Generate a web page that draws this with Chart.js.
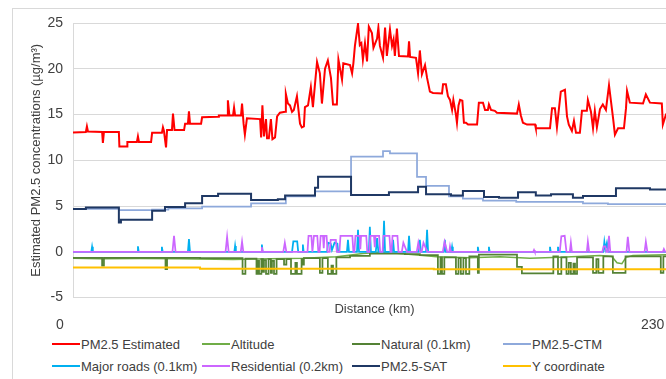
<!DOCTYPE html>
<html>
<head>
<meta charset="utf-8">
<script src="https://cdn.jsdelivr.net/npm/chart.js@4.4.1/dist/chart.umd.min.js"></script>
<style>
html, body { margin: 0; padding: 0; overflow: hidden; background: #fff; width: 666px; height: 379px; }
#frame { position: absolute; left: 12px; top: 8px; width: 1000px; height: 1000px; border: 1px solid #d9d9d9; }
#wrap { position: absolute; left: 0; top: 0; width: 680px; height: 336px; }
#legend { position: absolute; left: 0; top: 0; font: 13px "Liberation Sans", Arial, sans-serif; color: #404040; }
#legend .item { position: absolute; display: flex; align-items: center; height: 16px; white-space: nowrap; }
#legend .swatch { width: 28px; height: 2px; margin-right: 1px; }
</style>
</head>
<body>
<div id="frame"></div>
<div id="wrap"><canvas id="chart"></canvas></div>
<div id="legend"></div>
<script>
var seriesNames = ["PM2.5 Estimated", "Altitude", "Natural (0.1km)", "PM2.5-CTM",
  "Major roads (0.1km)", "Residential (0.2km)", "PM2.5-SAT", "Y coordinate"];
var seriesColors = ["#FF0000", "#70AD47", "#548235", "#8EA9DB", "#00B0F0", "#CC66FF", "#1F3864", "#FFC000"];
var distanceTicks = [0, 230];

// [distance km, value]
var pm25Estimated = [
  [0,13.05],[5.0,13.1],[5.4,13.7],[5.8,13.15],[11.3,13.1],[11.6,11.9],[12.0,13.1],[17.8,13.1],[18.0,11.5],
  [21.0,11.5],[21.1,12.0],[24.8,12.0],[25.2,12.6],[25.6,12.0],[30.3,12.0],[30.7,13.0],[34.5,13.0],[34.9,13.6],
  [35.3,13.2],[36.1,11.4],[36.5,13.3],[38.4,13.3],[38.8,15.1],[39.4,13.3],[43.1,13.3],[43.5,14.0],[44.6,14.0],
  [45.0,15.35],[45.4,14.0],[49.7,14.0],[50.1,14.7],[56.3,14.75],[56.6,14.9],[59.8,14.9],[60.1,16.55],[60.7,14.9],
  [62.1,14.9],[62.5,15.75],[62.9,14.9],[65.2,14.9],[65.6,16.2],[66.2,14.0],[66.7,12.8],[67.5,14.6],[72.6,14.5],
  [73.0,12.5],[73.5,16.0],[74.1,12.6],[74.9,14.5],[75.3,12.4],[76.0,12.4],[76.8,14.5],[77.4,12.3],[78.4,12.5],
  [79.2,14.8],[80.3,15.2],[82.3,15.3],[82.6,17.25],[83.4,16.2],[84.2,16.0],[85.0,15.3],[85.7,15.5],[86.9,17.0],
  [87.7,15.0],[88.1,14.0],[88.8,13.6],[89.6,13.7],[90.0,15.8],[91.2,16.0],[92.3,18.0],[93.1,15.8],[93.9,18.3],
  [94.7,20.75],[95.8,19.5],[96.6,16.2],[97.8,20.0],[98.9,20.9],[100.1,19.0],[100.9,16.1],[102.4,16.1],[103.0,21.0],
  [104.4,18.8],[104.9,20.6],[107.5,20.4],[108.3,19.5],[108.8,20.6],[109.4,22.5],[110.6,24.9],[111.3,22.6],
  [111.9,22.8],[112.5,21.0],[113.3,22.8],[114.1,20.8],[114.8,24.6],[116.0,23.9],[116.6,22.3],[118.0,23.3],
  [118.5,24.5],[119.1,22.5],[120.3,21.2],[121.1,24.5],[121.8,21.4],[123.0,24.3],[123.8,22.5],[124.4,23.2],
  [124.9,21.4],[125.7,24.4],[126.5,21.4],[130.0,21.35],[130.4,23.0],[130.8,21.3],[133.1,21.2],[133.9,19.5],
  [134.6,22.0],[135.4,19.4],[136.6,20.4],[137.4,19.0],[138.5,17.5],[139.7,17.35],[143.2,17.3],[143.6,18.3],
  [144.7,18.3],[145.5,17.0],[146.3,16.6],[147.1,15.5],[147.6,16.6],[148.6,15.0],[149.0,14.1],[149.6,16.0],
  [150.2,16.6],[151.1,16.5],[151.7,14.1],[152.5,14.1],[153.3,13.9],[156.8,13.9],[157.5,16.3],[159.1,16.3],
  [159.9,15.5],[161.0,15.5],[161.4,16.1],[162.2,15.5],[163.7,15.4],[164.5,15.2],[172.3,15.1],[173.0,16.1],
  [173.8,14.9],[174.6,14.1],[176.2,13.9],[179.3,13.9],[179.6,13.5],[185.1,13.5],[185.9,15.7],[187.0,15.7],
  [187.8,13.6],[188.6,15.7],[189.3,17.5],[190.9,17.7],[191.7,14.8],[192.4,13.9],[193.6,13.2],[194.4,14.3],
  [195.2,13.0],[196.7,13.0],[197.5,15.4],[199.4,15.4],[199.8,16.6],[201.0,15.3],[201.8,13.5],[202.5,15.4],
  [203.3,13.6],[204.5,15.6],[205.6,16.1],[206.8,15.5],[208.0,18.2],[209.1,15.7],[209.7,14.3],[210.3,12.8],
  [211.5,13.5],[213.8,13.5],[214.6,15.7],[215.0,17.6],[216.1,16.3],[221.2,16.2],[222.3,17.2],[223.9,16.3],
  [228.5,16.2],[228.9,13.9],[230.1,15.0],[231.6,14.8],[234,14.8]
];

var altitude = [
  [0,-0.7],[10.5,-0.75],[26,-0.72],[41.5,-0.75],[62.1,-0.85],[76.4,-0.75],[89.2,-0.7],[102.4,-0.55],
  [112.5,-0.18],[118,-0.08],[125.7,-0.15],[134.6,-0.37],[141.2,-0.55],[154,-0.65],[165.7,-0.55],[177.3,-0.7],
  [189,-0.6],[204.5,-0.4],[209.1,-0.5],[211.1,-1.2],[213,-1.3],[214.6,-0.6],[217.3,-0.4],[234,-0.3]
];

// stepped: value holds until the next distance
var natural = [
  [0,-0.65],[11.3,-1.5],[12.0,-0.65],[35.9,-1.9],[36.5,-0.65],[49.3,-0.7],[65.8,-2.4],[66.9,-0.75],
  [71.2,-2.4],[71.8,-1.0],[72.2,-2.4],[73.1,-0.8],[73.7,-2.2],[74.1,-0.9],[74.9,-2.4],[75.9,-0.8],
  [76.8,-2.3],[77.2,-1.0],[78.0,-2.4],[79.0,-0.8],[81.9,-1.4],[82.8,-0.8],[84.6,-2.4],[86.3,-1.2],
  [86.9,-2.4],[88.7,-0.8],[89.2,-1.4],[89.6,-0.7],[95.8,-2.3],[96.8,-0.7],[98.9,-2.4],[100.3,-1.5],
  [100.9,-2.4],[102.2,-0.6],[107.5,-0.45],[115.2,-0.2],[128.8,-0.25],[134.6,-0.35],[141.6,-2.4],[142.6,-0.6],
  [143.2,-2.4],[144.1,-0.6],[148.6,-2.4],[149.6,-0.7],[150.5,-2.4],[151.5,-0.7],[152.5,-2.4],[153.8,-0.5],
  [157.1,-2.3],[157.5,-0.3],[172.3,-1.65],[174.2,-2.35],[186.4,-0.5],[188.2,-2.4],[189.5,-0.6],[191.5,-2.4],
  [192.4,-1.2],[193.2,-2.4],[194.2,-1.3],[194.8,-2.4],[195.6,-0.6],[201.8,-2.3],[203.1,-0.8],[203.9,-2.3],
  [205.8,-0.5],[209.5,-2.3],[214.4,-0.5],[228.1,-2.3],[229.1,-0.5],[234,-0.5]
];

var pm25Ctm = [
  [0,4.7],[17.8,4.55],[30.7,4.6],[37.0,4.75],[50.1,4.95],[69.1,5.3],[82.6,6.05],[93.9,6.6],[107.9,10.4],
  [120.3,11.0],[123.0,10.75],[133.5,8.2],[137.0,7.2],[145.9,6.05],[151.3,5.8],[159.1,5.6],[172.0,5.45],
  [197.9,5.3],[207.6,5.2],[234,5.2]
];

var majorRoads = [
  [0,0],[7.1,0],[7.4,0.55],[7.7,0],[24.9,0],[25.2,0.6],[25.5,0],[34.2,0],[34.5,0.55],[34.8,0],
  [44.6,0],[45.0,1.4],[45.4,0],[62.6,0],[62.9,0.65],[63.2,0],[73.0,0],[73.3,0.8],[73.6,0],
  [85.0,0],[85.5,1.15],[87.0,1.15],[87.4,0],[88.9,0],[89.2,0.8],[89.5,0],
  [98.6,0],[99.0,1.0],[100.0,0.9],[100.5,0.2],[101.5,1.0],[102.6,0.9],[102.9,0],
  [106.3,0],[106.7,1.3],[107.1,0],[110.2,0],[110.6,2.4],[111.0,0],[114.8,0],[115.2,2.75],[115.6,0],
  [117.5,0],[118.0,1.5],[118.5,0],[120.3,0],[120.7,3.4],[121.1,0],[123.8,0],[124.2,1.3],[124.6,0],
  [130.0,0],[130.4,1.75],[130.8,0],[134.2,0],[134.6,1.3],[135.0,0],[137.0,0],[137.4,2.4],[137.8,0],
  [143.9,0],[144.3,1.3],[144.7,0],[146.8,0],[147.1,0.55],[147.4,0],[156.8,0],[157.1,0.55],[157.4,0],
  [161.1,0],[161.4,0.55],[161.7,0],[184.8,0],[185.1,0.55],[185.4,0],[187.9,0],[188.2,0.55],[188.5,0],
  [205.8,0],[206.2,1.1],[206.6,0.3],[207.2,1.0],[207.8,0],[234,0]
];

var residential = [
  [0,0],[38.6,0],[39.2,1.75],[39.8,0],[59.2,0],[59.8,1.65],[60.4,0],[65.1,0],[65.6,1.1],[66.1,0],
  [73.0,0],[73.3,0.5],[73.6,0],[81.6,0],[82.2,1.0],[82.8,0],
  [91.0,0],[91.4,1.75],[92.5,1.75],[92.9,0],[93.1,0],[93.5,1.75],[94.8,1.75],[95.2,0],
  [95.7,0],[96.1,1.75],[97.0,1.75],[97.3,0.4],[97.6,1.75],[98.4,1.75],[98.8,0],
  [99.6,0],[100.0,1.3],[102.0,1.3],[102.4,0],[103.4,0],[103.8,1.75],[108.4,1.75],[108.8,0],
  [109.2,0],[109.6,1.75],[111.2,1.75],[111.5,0.3],[111.8,1.75],[113.8,1.75],[114.2,0],
  [115.0,0],[115.4,1.75],[116.8,1.75],[117.1,0.5],[117.4,1.75],[118.8,1.75],[119.2,0],
  [120.1,0],[120.5,1.75],[122.8,1.75],[123.2,0],[123.6,0],[124.0,1.75],[125.9,1.75],[126.3,0],
  [127.6,0],[128.2,1.0],[129.6,0],[133.4,0],[134.0,1.0],[134.7,0],[135.3,0],[136.0,1.0],[137.5,0],
  [143.5,0],[144.2,1.1],[145.2,0],[146.0,0],[146.3,0.6],[146.7,0],[178.6,0],[178.9,0.2],[179.2,0],
  [188.9,0],[189.5,1.7],[190.8,1.75],[191.5,0],[192.8,0],[193.2,1.0],[193.6,0],[199.4,0],[199.8,1.1],[200.3,0],
  [205.4,0],[205.9,0.6],[206.6,0.6],[207.0,0],[207.6,0],[208.0,1.75],[208.5,0],[214.8,0],[215.3,1.65],[215.9,0],
  [221.8,0],[222.3,1.1],[222.9,0],[228.9,0],[229.3,0.3],[229.8,0],[234,0]
];

var pm25Sat = [
  [0,4.67],[5.0,4.85],[17.8,3.2],[18.6,3.5],[30.7,4.5],[35.7,4.9],[43.5,5.3],[50.1,6.1],[56.3,6.35],
  [69.1,5.65],[79.5,5.75],[82.3,6.15],[93.9,7.0],[95.1,8.2],[107.9,6.2],[122.6,6.5],[133.9,7.1],[137.0,6.3],
  [146.7,6.15],[151.3,6.65],[159.5,6.0],[165.3,5.9],[172.7,6.5],[179.6,6.15],[185.5,6.3],[194.0,5.9],
  [197.9,6.1],[210.7,6.95],[223.9,6.8],[234,6.8]
];

var yCoordinate = [[0,-1.7],[49.3,-1.85],[140,-1.9],[234,-1.9]];

var seriesData = [pm25Estimated, altitude, natural, pm25Ctm, majorRoads, residential, pm25Sat, yCoordinate];
var lineWidths = [2, 1.5, 1.75, 1.75, 1.75, 1.75, 2, 2];
var steppedLines = [false, false, true, true, false, false, true, true];

var font = "'Liberation Sans', Arial, sans-serif";
var textColor = "#404040";
var gridColor = "#d9d9d9";

var datasets = [];
for (var i = 0; i < seriesData.length; i++) {
  datasets.push({
    label: seriesNames[i],
    data: seriesData[i],
    borderColor: seriesColors[i],
    backgroundColor: seriesColors[i],
    borderWidth: lineWidths[i],
    stepped: steppedLines[i],
    pointRadius: 0,
    tension: 0,
    fill: false,
    order: seriesData.length - i, // later series on top, like the original
  });
}

new Chart(document.getElementById("chart"), {
  type: "line",
  data: { datasets: datasets },
  options: {
    animation: false,
    responsive: true,
    maintainAspectRatio: false,
    layout: { padding: { left: 28.4, top: 23, right: 4, bottom: 2 } },
    plugins: { legend: { display: false }, tooltip: { enabled: false } },
    scales: {
      x: {
        type: "linear",
        min: 0,
        max: 234,
        weight: 0,
        grid: { display: false, drawTicks: false },
        border: { display: false },
        ticks: { display: false },
        title: {
          display: true,
          text: "Distance (km)",
          color: textColor,
          font: { family: font, size: 13 },
          padding: { top: 4, bottom: 0 },
        },
      },
      x2: {
        type: "linear",
        position: "bottom",
        min: 0,
        max: 234,
        weight: 1,
        grid: { display: false, drawTicks: false },
        border: { display: false },
        afterBuildTicks: function (scale) {
          scale.ticks = distanceTicks.map(function (v) { return { value: v }; });
        },
        ticks: {
          color: textColor,
          font: { family: font, size: 14 },
          padding: 0,
          labelOffset: -13,
          maxRotation: 0,
          autoSkip: false,
        },
      },
      y: {
        min: -5,
        max: 25,
        afterFit: function (scale) { scale.width = 44.6; },
        grid: { color: gridColor, drawTicks: false },
        border: { display: true, color: gridColor },
        ticks: { stepSize: 5, color: textColor, font: { family: font, size: 14 }, padding: 10 },
        title: {
          display: true,
          text: "Estimated PM2.5 concentrations (µg/m³)",
          color: textColor,
          font: { family: font, size: 13 },
          padding: { top: 0, bottom: 0 },
        },
      },
    },
  },
});

// legend, 4 columns x 2 rows
var legendCols = [52, 202, 352, 503];
var legendRows = [336, 358];
var legend = document.getElementById("legend");
for (var j = 0; j < seriesNames.length; j++) {
  var item = document.createElement("div");
  item.className = "item";
  item.style.left = legendCols[j % 4] + "px";
  item.style.top = legendRows[Math.floor(j / 4)] + "px";
  item.innerHTML = "<span class='swatch' style='background:" + seriesColors[j] + "'></span>" + seriesNames[j];
  legend.appendChild(item);
}
</script>
</body>
</html>
